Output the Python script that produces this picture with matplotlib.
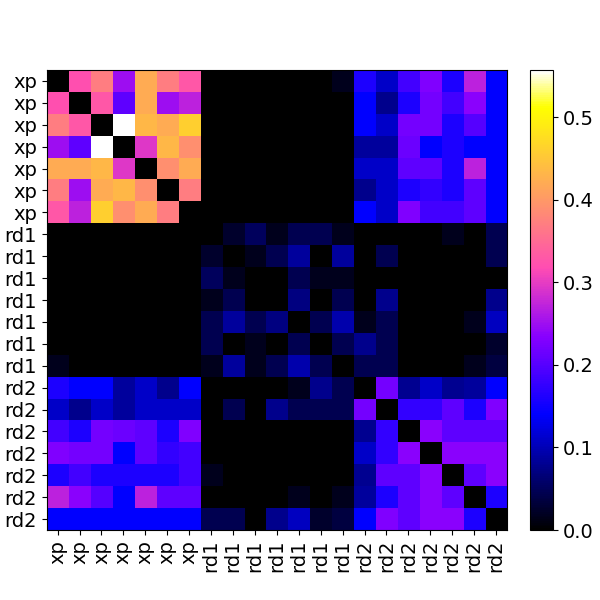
import numpy as np
import matplotlib
matplotlib.use("Agg")
from matplotlib import pyplot as plt

# tick labels
labels = ["xp"] * 7 + ["rd1"] * 7 + ["rd2"] * 7

# matrix values (row by row)
z7 = [0] * 7
row00 = [0, .32, .37, .25, .42, .37, .33] + [0, 0, 0, 0, 0, 0, .017] + [.16, .11, .185, .23, .16, .27, .14]
row01 = [.32, 0, .33, .205, .42, .25, .27] + z7 + [.14, .078, .16, .22, .185, .235, .14]
row02 = [.37, .33, 0, .557, .435, .42, .46] + z7 + [.14, .11, .22, .22, .16, .2, .14]
row03 = [.25, .205, .557, 0, .295, .435, .39] + z7 + [.085, .085, .215, .14, .16, .14, .14]
row04 = [.42, .42, .435, .295, 0, .39, .42] + z7 + [.11, .11, .205, .205, .16, .27, .14]
row05 = [.37, .25, .42, .435, .39, 0, .37] + z7 + [.078, .11, .16, .175, .16, .205, .14]
row06 = [.33, .27, .46, .39, .42, .37, 0] + z7 + [.14, .11, .23, .185, .185, .205, .14]
row07 = z7 + [0, .026, .052, .017, .044, .044, .017] + [0, 0, 0, 0, .017, 0, .044]
row08 = z7 + [.026, 0, .017, .044, .087, 0, .087] + [0, .044, 0, 0, 0, 0, .044]
row09 = z7 + [.052, .017, 0, 0, .044, .017, .017] + z7
row10 = z7 + [.017, .044, 0, 0, .07, 0, .044] + [0, .078, 0, 0, 0, 0, .078]
row11 = z7 + [.044, .087, .044, .07, 0, .044, .095] + [.017, .044, 0, 0, 0, .017, .105]
row12 = z7 + [.044, 0, .017, 0, .044, 0, .044] + [.078, .044, 0, 0, 0, 0, .026]
row13 = [.017, 0, 0, 0, 0, 0, 0] + [.017, .087, .017, .044, .095, .044, 0] + [.044, .044, 0, 0, 0, .017, .035]
row14 = [.16, .14, .14, .085, .11, .078, .14] + [0, 0, 0, 0, .017, .078, .044] + [0, .22, .08, .11, .08, .085, .14]
row15 = [.11, .078, .11, .085, .11, .11, .11] + [0, .044, 0, .078, .044, .044, .044] + [.22, 0, .175, .175, .205, .16, .23]
row16 = [.185, .16, .22, .215, .205, .16, .23] + z7 + [.08, .175, 0, .235, .205, .205, .205]
row17 = [.23, .22, .22, .14, .205, .175, .185] + z7 + [.11, .175, .235, 0, .235, .235, .235]
row18 = [.16, .185, .16, .16, .16, .16, .185] + [.017, 0, 0, 0, 0, 0, 0] + [.08, .205, .205, .235, 0, .205, .235]
row19 = [.27, .235, .2, .14, .27, .205, .205] + [0, 0, 0, 0, .017, 0, .017] + [.085, .16, .205, .235, .205, 0, .16]
row20 = [.14] * 7 + [.044, .044, 0, .078, .105, .026, .035] + [.14, .23, .205, .235, .235, .16, 0]

data = np.array([row00, row01, row02, row03, row04, row05, row06,
                 row07, row08, row09, row10, row11, row12, row13,
                 row14, row15, row16, row17, row18, row19, row20])

fig = plt.figure(figsize=(6, 6), dpi=100)
ax = fig.add_axes([46.7 / 600, 70 / 600, 460.3 / 600, 460 / 600])
cax = fig.add_axes([530 / 600, 70 / 600, 23 / 600, 460 / 600])

im = ax.imshow(data, cmap="gnuplot2", vmin=0, vmax=data.max(), aspect="auto",
               interpolation="nearest")
ax.set_xticks(range(len(labels)))
ax.set_yticks(range(len(labels)))
ax.set_xticklabels(labels, rotation=90, fontsize=14)
ax.set_yticklabels(labels, fontsize=14)

cb = fig.colorbar(im, cax=cax)
cb.ax.tick_params(labelsize=14)

fig.savefig("out.png", dpi=100)
